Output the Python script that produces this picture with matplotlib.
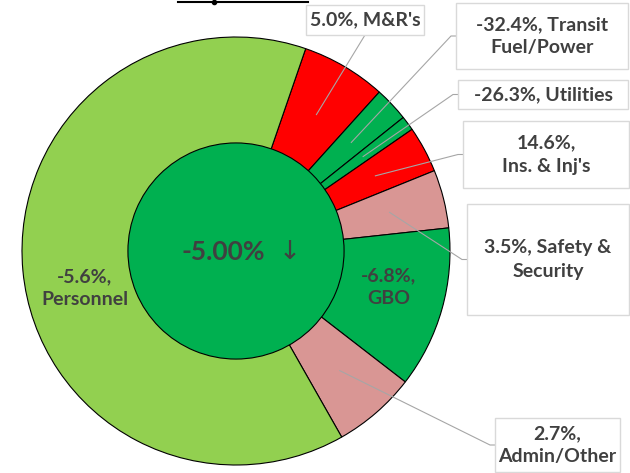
import numpy as np
import matplotlib
matplotlib.use("Agg")
import matplotlib.pyplot as plt
from matplotlib.patches import Rectangle

plt.rcParams["font.family"] = ["Lato", "DejaVu Sans"]

# 各科目预算占比 (顺时针, 从 M&R 开始) 与同比变化
names = ["M&R's", "Transit\nFuel/Power", "Utilities", "Ins. & Inj's",
         "Safety &\nSecurity", "GBO", "Admin/Other", "Personnel"]
seps = [", ", ", ", ", ", ",\n", ", ", ",\n", ",\n", ",\n"]
shares = [6.4, 2.6, 1.1, 3.5, 4.4, 12.2, 6.3, 63.5]
changes = [5.0, -32.4, -26.3, 14.6, 3.5, -6.8, 2.7, -5.6]
total_change = -5.00

RED, GREEN, LGREEN, PINK = "#FF0000", "#00B050", "#92D050", "#D99694"
colors = [RED, GREEN, GREEN, RED, PINK, GREEN, PINK, LGREEN]
TXT = "#404040"
FS = 14
LS = 1.45

# 画布像素坐标 -> 数据坐标
W, H = 630, 473
CX, CY, R = 236, 251, 214


def P(x, y):
    return ((x - CX) / R, (CY - y) / R)


fig = plt.figure(figsize=(W / 100, H / 100), dpi=100)
ax = fig.add_axes([0, 0, 1, 1])

wedges, _ = ax.pie(shares, colors=colors, startangle=71, counterclock=False,
                   radius=1.0, wedgeprops=dict(edgecolor="black", linewidth=0.8))
ax.pie([abs(total_change)], colors=[GREEN], radius=0.505,
       wedgeprops=dict(edgecolor="black", linewidth=0.8))

ax.set_xlim(-CX / R, (W - CX) / R)
ax.set_ylim(-(H - CY) / R, CY / R)
ax.set_aspect("auto")
ax.axis("off")

labels = [f"{c:.1f}%{s}{n}" for c, s, n in zip(changes, seps, names)]

# 中心总变化
ax.text(*P(223, 252), f"{total_change:.2f}%", ha="center", va="center",
        fontsize=19, fontweight="bold", color=TXT)
ax.text(*P(290, 252), "↓", ha="center", va="center", fontsize=19,
        color=TXT, family=["DejaVu Sans"])

# 扇区内标签: GBO, Personnel
ax.text(*P(389, 287), labels[5], ha="center", va="center", fontsize=FS,
        fontweight="bold", color=TXT, linespacing=LS)
ax.text(*P(85, 288), labels[7], ha="center", va="center", fontsize=FS,
        fontweight="bold", color=TXT, linespacing=LS)

# 外部标注框 (x0, y0, x1, y1) 像素
boxes = {0: (306, 5, 424, 35), 1: (456, 3, 628, 69), 2: (458, 80, 628, 109),
         3: (463, 121, 629, 188), 4: (467, 204, 629, 315), 6: (495, 418, 620, 472)}
for i, (x0, y0, x1, y1) in boxes.items():
    bx0, by0 = P(x0, y1)
    bx1, by1 = P(x1, y0)
    ax.add_patch(Rectangle((bx0, by0), bx1 - bx0, by1 - by0, facecolor="white",
                           edgecolor="#D9D9D9", linewidth=1.0, zorder=3))
    cx, cy = (x0 + x1) / 2, (y0 + y1) / 2
    ax.text(*P(cx, cy), labels[i], ha="center", va="center", fontsize=FS,
            fontweight="bold", color=TXT, linespacing=LS, zorder=4)
    # 引导线: 扇区中线 0.74R 处 -> 标注框
    w = wedges[i]
    mid = np.deg2rad((w.theta1 + w.theta2) / 2)
    px, py = 0.74 * np.cos(mid), 0.74 * np.sin(mid)
    if i == 0:
        ex, ey = P(cx, y1)
        ax.plot([px, ex], [py, ey], color="#A6A6A6", lw=0.8, zorder=2)
    else:
        ex, ey = P(x0 - 5, cy)
        fx, fy = P(x0, cy)
        ax.plot([px, ex, fx], [py, ey, fy], color="#A6A6A6", lw=0.8, zorder=2)

# 顶部截断的标题线
ax.plot([P(178, 2)[0], P(308, 2)[0]], [P(178, 2)[1]] * 2, color="black", lw=1.5)
ax.plot([P(214, 2)[0]], [P(214, 2)[1]], "o", color="black", ms=3)

fig.savefig("out.png", dpi=100)
